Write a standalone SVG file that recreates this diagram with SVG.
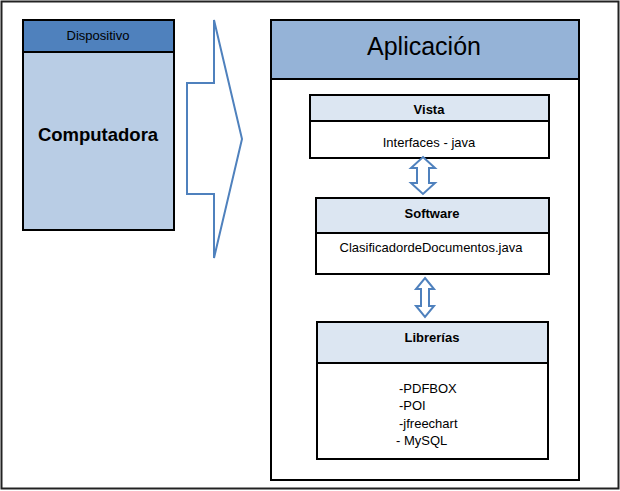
<svg xmlns="http://www.w3.org/2000/svg" width="620" height="491" viewBox="0 0 620 491">
<style>
.box{stroke:#000;stroke-width:2;}
.sub{fill:#dce6f2;}
.t{font-family:"Liberation Sans",Arial,sans-serif;fill:#000;text-anchor:middle;}
.b{font-weight:bold;}
.conn{fill:#fff;stroke:#4f81bd;stroke-width:2;stroke-linejoin:miter;}
</style>
<rect x="1.5" y="1.5" width="617" height="487" fill="#fff" stroke="#222" stroke-width="2"/>
<g id="dispositivo">
<rect class="box" x="23" y="20" width="151" height="210" fill="#b9cde5"/>
<rect class="box" x="23" y="20" width="151" height="32" fill="#4f81bd"/>
<text class="t" x="98" y="40" font-size="13">Dispositivo</text>
<text class="t b" x="98" y="141" font-size="18.5">Computadora</text>
</g>
<g id="aplicacion">
<rect class="box" x="271" y="20" width="308" height="460" fill="#fff"/>
<rect class="box" x="271" y="20" width="308" height="59" fill="#95b3d7"/>
<text class="t" x="424" y="55" font-size="25">Aplicación</text>
</g>
<g id="vista">
<rect class="box" x="310" y="95" width="239" height="63" fill="#fff"/>
<rect class="box sub" x="310" y="95" width="239" height="26"/>
<text class="t b" x="429" y="114" font-size="13">Vista</text>
<text class="t" x="429" y="147" font-size="13">Interfaces - java</text>
</g>
<g id="software">
<rect class="box" x="316" y="198" width="233" height="76" fill="#fff"/>
<rect class="box sub" x="316" y="198" width="233" height="35"/>
<text class="t b" x="432" y="218" font-size="13">Software</text>
<text class="t" x="431" y="252" font-size="13">ClasificadordeDocumentos.java</text>
</g>
<g id="librerias">
<rect class="box" x="317" y="322" width="231" height="137" fill="#fff"/>
<rect class="box sub" x="317" y="322" width="231" height="41"/>
<text class="t b" x="432" y="342" font-size="13">Librerías</text>
<text class="t" x="399" y="393" font-size="13" style="text-anchor:start">-PDFBOX</text>
<text class="t" x="399" y="410" font-size="13" style="text-anchor:start">-POI</text>
<text class="t" x="399" y="428" font-size="13" style="text-anchor:start">-jfreechart</text>
<text class="t" x="396" y="445" font-size="13" style="text-anchor:start">- MySQL</text>
</g>
<g id="connectors">
<polygon class="conn" points="214,20 242,139 214,258 214,194 187,194 187,83 214,83"/>
<polygon class="conn" points="423,157 435,168 429,168 429,183 435,183 423,194 411,183 417,183 417,168 411,168"/>
<polygon class="conn" points="425,278 434,289 429,289 429,306 434,306 425,317 416,306 421,306 421,289 416,289"/>
</g>
</svg>
